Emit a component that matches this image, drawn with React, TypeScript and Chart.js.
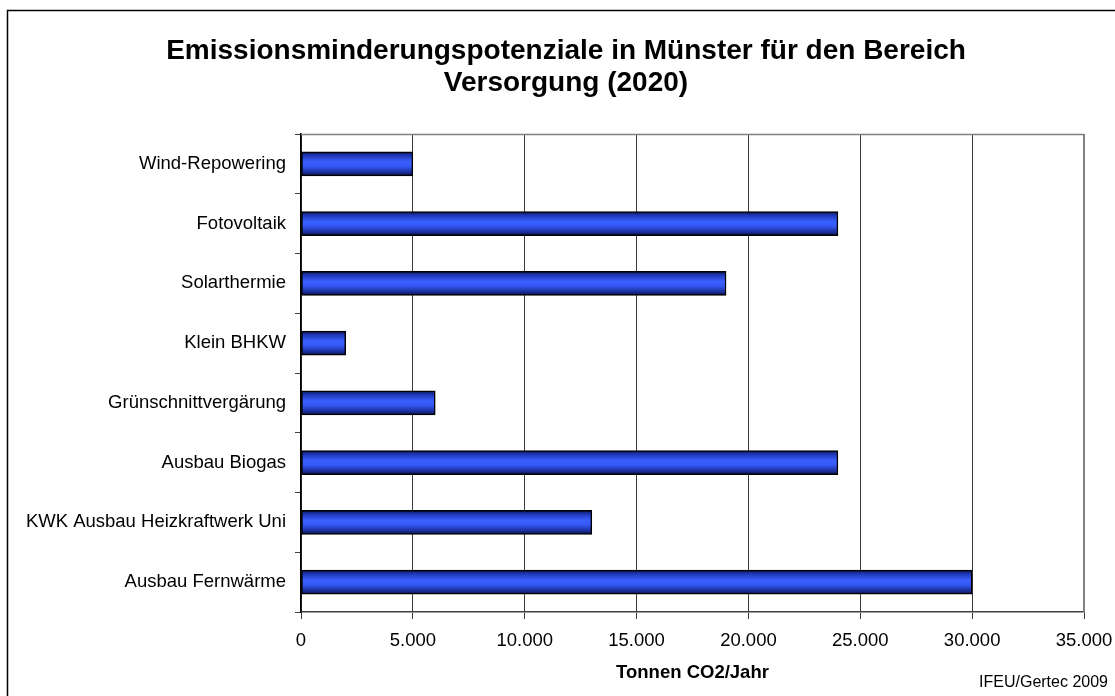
import React, { useEffect, useRef } from "react";
import { Chart, registerables } from "chart.js";

Chart.register(...registerables);

const categories = [
  "Wind-Repowering",
  "Fotovoltaik",
  "Solarthermie",
  "Klein BHKW",
  "Grünschnittvergärung",
  "Ausbau Biogas",
  "KWK Ausbau Heizkraftwerk Uni",
  "Ausbau Fernwärme",
];
const values = [5000, 24000, 19000, 2000, 6000, 24000, 13000, 30000];
const titleLines = ["Emissionsminderungspotenziale in Münster für den Bereich", "Versorgung (2020)"];
const xAxisTitle = "Tonnen CO2/Jahr";
const sourceNote = "IFEU/Gertec 2009";
const xMin = 0;
const xMax = 35000;
const xStep = 5000;

const FONT = '"Liberation Sans", Arial, Helvetica, sans-serif';

function fmt(v: number): string {
  return String(v).replace(/\B(?=(\d{3})+(?!\d))/g, ".");
}

export default function App() {
  const ref = useRef<HTMLCanvasElement>(null);

  useEffect(() => {
    document.body.style.margin = "0";
    const canvas = ref.current!;

    const decor = {
      id: "decor",
      beforeDraw(chart: any) {
        const ctx = chart.ctx;
        ctx.save();
        ctx.fillStyle = "#ffffff";
        ctx.fillRect(0, 0, chart.width, chart.height);
        ctx.strokeStyle = "#000000";
        ctx.lineWidth = 1.5;
        ctx.beginPath();
        ctx.moveTo(7.5, chart.height + 2);
        ctx.lineTo(7.5, 10.5);
        ctx.lineTo(chart.width + 2, 10.5);
        ctx.stroke();
        ctx.restore();
      },
      beforeDatasetsDraw(chart: any) {
        const ctx = chart.ctx;
        const a = chart.chartArea;
        ctx.save();
        ctx.strokeStyle = "#808080";
        ctx.lineWidth = 1.5;
        ctx.beginPath();
        ctx.moveTo(a.left, a.top + 0.5);
        ctx.lineTo(a.right, a.top + 0.5);
        ctx.stroke();
        ctx.lineWidth = 2;
        ctx.beginPath();
        ctx.moveTo(a.right, a.top);
        ctx.lineTo(a.right, a.bottom);
        ctx.stroke();
        ctx.restore();
      },
      afterDraw(chart: any) {
        const ctx = chart.ctx;
        const a = chart.chartArea;
        ctx.save();
        ctx.fillStyle = "#000000";
        ctx.textAlign = "center";
        ctx.textBaseline = "alphabetic";
        ctx.font = `bold 28px ${FONT}`;
        ctx.fillText(titleLines[0], 566, 59);
        ctx.fillText(titleLines[1], 566, 91);
        ctx.font = `bold 18.5px ${FONT}`;
        ctx.textBaseline = "middle";
        ctx.fillText(xAxisTitle, (a.left + a.right) / 2, 673);
        ctx.font = `16px ${FONT}`;
        ctx.textAlign = "right";
        ctx.fillText(sourceNote, 1108, 683);
        ctx.restore();
      },
    };

    const barFill = (c: any) => {
      const chart = c.chart;
      const ys = chart.scales && chart.scales.y;
      if (!ys || c.type !== "data" || !chart.chartArea) return "#2f52f0";
      const mid = ys.getPixelForValue(c.dataIndex);
      const g = chart.ctx.createLinearGradient(0, mid - 12, 0, mid + 12);
      g.addColorStop(0, "#0c1650");
      g.addColorStop(0.15, "#1e36b4");
      g.addColorStop(0.42, "#3a60ff");
      g.addColorStop(0.6, "#3458f4");
      g.addColorStop(0.85, "#1a2f9c");
      g.addColorStop(1, "#0a1248");
      return g;
    };

    const chart = new Chart(canvas, {
      type: "bar",
      data: {
        labels: categories,
        datasets: [
          {
            data: values,
            backgroundColor: barFill,
            borderColor: "#000000",
            borderWidth: 1.5,
            borderSkipped: false,
            barThickness: 24,
          },
        ],
      },
      options: {
        indexAxis: "y",
        responsive: false,
        animation: false,
        devicePixelRatio: 1,
        layout: { padding: { top: 134, right: 31, left: 0, bottom: 0 } },
        plugins: {
          legend: { display: false },
          tooltip: { enabled: false },
          title: { display: false },
        },
        scales: {
          x: {
            type: "linear",
            min: xMin,
            max: xMax,
            afterFit: (s: any) => {
              s.height = 84;
              s.paddingLeft = 0;
              s.paddingRight = 0;
            },
            ticks: {
              stepSize: xStep,
              color: "#000000",
              padding: 11,
              maxRotation: 0,
              autoSkip: false,
              font: { family: FONT, size: 18.5 },
              callback: (v: any) => fmt(Number(v)),
            },
            grid: {
              color: "#3a3a3a",
              lineWidth: 1,
              drawTicks: true,
              tickLength: 7,
            },
            border: { color: "#404040", width: 1.5 },
          },
          y: {
            type: "category",
            afterFit: (s: any) => {
              s.width = 301;
              s.paddingTop = 0;
              s.paddingBottom = 0;
            },
            ticks: {
              color: "#000000",
              padding: 9,
              autoSkip: false,
              font: { family: FONT, size: 18.5 },
            },
            grid: {
              drawOnChartArea: false,
              drawTicks: true,
              tickLength: 6,
              offset: true,
              color: "#404040",
            },
            border: { color: "#000000", width: 1.5 },
          },
        },
      },
      plugins: [decor],
    });

    return () => {
      chart.destroy();
    };
  }, []);

  return (
    <div style={{ position: "absolute", left: 0, top: 0, width: 1115, height: 696 }}>
      <canvas ref={ref} width={1115} height={696} style={{ width: 1115, height: 696, display: "block" }} />
    </div>
  );
}
